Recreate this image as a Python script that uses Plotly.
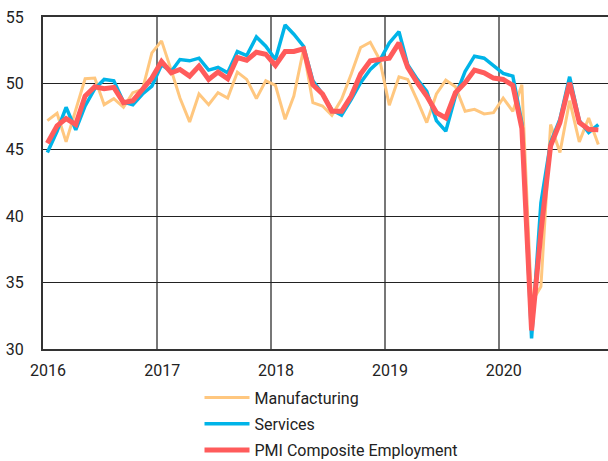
import plotly.graph_objects as go
import pandas as pd

# Monthly data Jan 2016 - Nov 2020 (plotted mid-month)
months = pd.date_range("2016-01-01", periods=59, freq="MS") + pd.Timedelta(days=14)

manufacturing = [47.2, 47.75, 45.6, 48.0, 50.35, 50.4, 48.4, 48.85, 48.2, 49.3, 49.55, 52.3,
                 53.2, 51.0, 48.9, 47.1, 49.2, 48.4, 49.3, 48.9, 50.85, 50.3, 48.85, 50.2,
                 49.85, 47.3, 49.05, 52.55, 48.55, 48.3, 47.6, 48.8, 50.7, 52.7, 53.1, 51.8,
                 48.35, 50.5, 50.3, 48.7, 47.05, 49.2, 50.25, 49.75, 47.9, 48.05, 47.7, 47.8,
                 48.9, 47.9, 49.9, 33.5, 34.7, 46.9, 44.8, 48.7, 45.6, 47.4, 45.4]

services = [44.8, 46.4, 48.2, 46.5, 48.3, 49.6, 50.3, 50.2, 48.6, 48.4, 49.2, 49.8,
            51.4, 50.9, 51.8, 51.7, 51.9, 51.0, 51.2, 50.8, 52.4, 52.1, 53.5, 52.8,
            51.8, 54.4, 53.7, 52.8, 50.2, 49.2, 48.0, 47.6, 48.8, 50.05, 51.05, 51.7,
            53.05, 53.9, 51.4, 50.3, 49.4, 47.2, 46.4, 49.05, 50.9, 52.05, 51.9, 51.3,
            50.75, 50.55, 47.0, 30.8, 41.0, 45.55, 47.3, 50.5, 47.2, 46.3, 46.9]

composite = [45.5, 46.8, 47.35, 46.9, 49.05, 49.75, 49.6, 49.7, 48.55, 48.7, 49.55, 50.4,
             51.65, 50.8, 51.05, 50.55, 51.3, 50.3, 50.85, 50.35, 51.95, 51.75, 52.35, 52.2,
             51.35, 52.4, 52.4, 52.6, 49.9, 49.2, 47.9, 47.9, 49.05, 50.7, 51.7, 51.8,
             51.9, 53.05, 51.2, 50.05, 49.05, 47.8, 47.4, 49.3, 50.05, 51.0, 50.8, 50.4,
             50.3, 49.85, 46.6, 31.4, 38.8, 45.3, 47.05, 50.05, 47.05, 46.55, 46.5]

series_names = ["Manufacturing", "Services", "PMI Composite Employment"]
year_ticks = ["2016-01-01", "2017-01-01", "2018-01-01", "2019-01-01", "2020-01-01"]
year_labels = ["2016", "2017", "2018", "2019", "2020"]
y_ticks = [30, 35, 40, 45, 50, 55]

FONT = "Roboto, 'Open Sans', sans-serif"

fig = go.Figure()
fig.add_trace(go.Scatter(x=months, y=manufacturing, name=series_names[0], mode="lines",
                         legendgroup="m", line=dict(color="#FFC77F", width=3)))
fig.add_trace(go.Scatter(x=months, y=services, name=series_names[1], mode="lines",
                         legendgroup="s", line=dict(color="#00B4E8", width=3.5)))
fig.add_trace(go.Scatter(x=months, y=composite, name=series_names[2], mode="lines",
                         legendgroup="c", line=dict(color="#FF5B5B", width=5)))

fig.update_layout(
    width=608, height=461,
    margin=dict(l=43, r=0, t=17, b=112, autoexpand=False),
    paper_bgcolor="white", plot_bgcolor="white",
    font=dict(family=FONT, size=16, color="#222"),
    showlegend=True,
    legend=dict(orientation="v", x=0.277, xanchor="left", y=-0.095, yanchor="top",
                font=dict(size=16, color="#222"), bgcolor="rgba(0,0,0,0)",
                tracegroupgap=2.5, itemwidth=45),
    xaxis=dict(range=["2016-01-01", "2020-12-16"], tickvals=year_ticks, ticktext=year_labels,
               showgrid=True, gridcolor="#777", gridwidth=1.5, automargin=False,
               showline=True, linecolor="#333", linewidth=2, mirror=True,
               ticks="", ticklabelshift=5, ticklabelstandoff=6,
               tickfont=dict(size=16, color="#222")),
    yaxis=dict(range=[30, 55], tickvals=y_ticks, automargin=False,
               showgrid=True, gridcolor="#222", gridwidth=1,
               showline=True, linecolor="#333", linewidth=2,
               ticks="", ticklabelstandoff=14, zeroline=False,
               tickfont=dict(size=16, color="#222")),
)

fig.write_html("out.html", config={"displayModeBar": False},
               post_script="document.body.style.margin='0';document.body.style.overflow='hidden';")
